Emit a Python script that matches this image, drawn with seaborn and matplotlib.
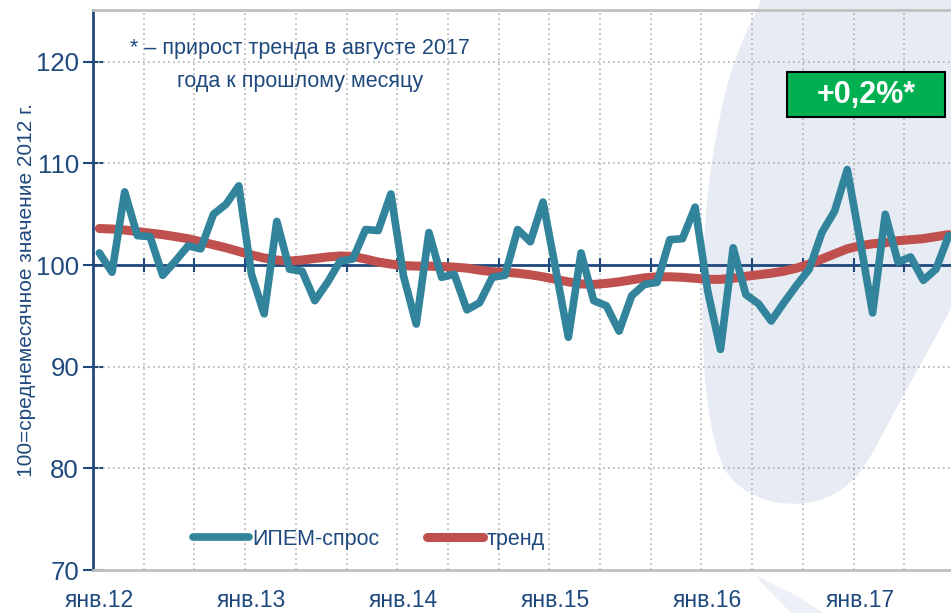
import numpy as np
import pandas as pd
import seaborn as sns
import matplotlib.pyplot as plt
from matplotlib.patches import Polygon, Rectangle

# ИПЕМ-спрос, январь 2012 - август 2017
demand = [101.2, 99.3, 107.2, 102.9, 102.8, 99.0, 100.4, 101.9, 101.6, 105.0, 106.0, 107.8,
          99.1, 95.2, 104.3, 99.6, 99.4, 96.5, 98.3, 100.4, 100.6, 103.5, 103.4, 107.0,
          98.9, 94.2, 103.2, 98.8, 99.1, 95.6, 96.3, 98.8, 99.0, 103.5, 102.3, 106.2,
          99.6, 92.9, 101.2, 96.5, 96.0, 93.5, 97.0, 98.1, 98.3, 102.5, 102.6, 105.7,
          97.4, 91.7, 101.7, 97.1, 96.2, 94.5, 96.3, 98.0, 99.6, 103.2, 105.3, 109.4,
          102.5, 95.3, 105.0, 100.3, 100.8, 98.5, 99.6, 102.9]
trend = [103.6, 103.55, 103.45, 103.3, 103.15, 103.0, 102.8, 102.6, 102.3, 102.0, 101.7, 101.35,
         101.0, 100.7, 100.5, 100.4, 100.5, 100.65, 100.8, 100.9, 100.85, 100.6, 100.3, 100.1,
         99.95, 99.9, 99.9, 99.85, 99.8, 99.7, 99.5, 99.35, 99.3, 99.2, 99.05, 98.85,
         98.6, 98.35, 98.15, 98.1, 98.2, 98.35, 98.55, 98.75, 98.85, 98.85, 98.8, 98.7,
         98.6, 98.6, 98.7, 98.9, 99.05, 99.2, 99.4, 99.7, 100.1, 100.6, 101.1, 101.6,
         101.9, 102.1, 102.2, 102.4, 102.5, 102.6, 102.8, 103.0]
year_labels = ["янв.12", "янв.13", "янв.14", "янв.15", "янв.16", "янв.17"]
y_ticks = [70, 80, 90, 100, 110, 120]

navy = "#1f497d"
teal = "#31849b"
red = "#c0504d"

sns.set_theme(style="white")
plt.rcParams['font.family'] = ['Liberation Sans', 'DejaVu Sans']

W, H = 951, 613


def smooth_closed(pts, n=20):
    # замкнутый сплайн Катмулла-Рома по опорным точкам
    p = np.array(pts, dtype=float)
    out = []
    k = len(p)
    for i in range(k):
        p0, p1, p2, p3 = p[i - 1], p[i], p[(i + 1) % k], p[(i + 2) % k]
        t = np.linspace(0, 1, n, endpoint=False)[:, None]
        out.append(0.5 * (2 * p1 + (-p0 + p2) * t + (2 * p0 - 5 * p1 + 4 * p2 - p3) * t ** 2
                          + (-p0 + 3 * p1 - 3 * p2 + p3) * t ** 3))
    out = np.vstack(out)
    out[:, 1] = H - out[:, 1]
    return out


fig = plt.figure(figsize=(W / 100, H / 100), dpi=100)
fig.patch.set_facecolor("white")

# декоративный фон справа (пиксели, отсчёт сверху)
blob_pts = [(790, -60), (762, 0), (736, 60), (720, 120), (708, 200), (703, 300), (708, 400),
            (725, 468), (758, 496), (797, 503), (832, 494), (862, 468), (900, 400),
            (951, 307), (990, 230), (1005, 60), (960, -60), (870, -90)]
fig.patches.append(Polygon(smooth_closed(blob_pts), closed=True, color="#e7ebf4",
                           zorder=-5, transform=None))
fig.patches.append(Polygon([(757, H - 577), (796, H - 596), (822, H - 613), (792, H - 613)],
                           closed=True, color="#edf0f7", zorder=-5, transform=None))

ax = fig.add_axes([93 / W, 43 / H, 862 / W, 560 / H])
ax.set_facecolor("none")

df = pd.DataFrame({"month": np.arange(len(demand)), "demand": demand, "trend": trend})
sns.lineplot(data=df, x="month", y="demand", color=teal, lw=5.5, ax=ax,
             label="ИПЕМ-спрос", zorder=4, solid_capstyle="round")
sns.lineplot(data=df, x="month", y="trend", color=red, lw=6.5, ax=ax,
             label="тренд", zorder=3, solid_capstyle="round")

ax.set_xlim(-0.5, len(demand) - 0.5)
ax.set_ylim(70, 125.1)

# сетка
for yv in y_ticks[1:]:
    ax.axhline(yv, color="#b0b0b0", lw=1.2, ls=(0, (1, 2)), zorder=1)
for xv in np.arange(3.5, len(demand), 4):
    ax.axvline(xv, color="#b0b0b0", lw=1.2, ls=(0, (1, 2)), zorder=1)

# ось X на уровне 100
ax.axhline(100, color=navy, lw=2, zorder=2)
ax.vlines(np.arange(3.5, len(demand), 4), 99.3, 100.7, color=navy, lw=1.5, zorder=2)

ax.set_yticks(y_ticks)
ax.set_yticklabels([str(v) for v in y_ticks], color=navy, fontsize=18.5)
ax.tick_params(axis="y", direction="inout", length=14, width=1.5, color=navy, left=True, pad=3)
ax.set_xticks(np.arange(0, len(demand), 12))
ax.set_xticklabels(year_labels, color=navy, fontsize=16.5)
ax.tick_params(axis="x", length=0, pad=14)
ax.set_xlabel("")
ax.set_ylabel("100=среднемесячное значение 2012 г.", color=navy, fontsize=15, labelpad=0)

for s in ["top", "bottom"]:
    ax.spines[s].set_color("#c0c0c0")
    ax.spines[s].set_linewidth(2)
ax.spines["right"].set_visible(False)
ax.spines["left"].set_color(navy)
ax.spines["left"].set_linewidth(2)

leg = ax.legend(loc="center", bbox_to_anchor=(369 / W, 1 - 539 / H), bbox_transform=fig.transFigure,
                ncol=2, frameon=False, fontsize=15.5, handlelength=2.6, columnspacing=2.2,
                handletextpad=0.15, labelcolor=navy)
for ln in leg.get_lines():
    ln.set_solid_capstyle("round")

fig.text(300 / W, 1 - 65 / H, "* – прирост тренда в августе 2017\nгода к прошлому месяцу",
         ha="center", va="center", color=navy, fontsize=15.5, linespacing=1.7)

fig.patches.append(Rectangle((787, H - 117), 158, 45, fc="#00b050", ec="black", lw=1.5,
                             transform=None, zorder=5))
fig.text(866 / W, 1 - 95 / H, "+0,2%*", ha="center", va="center", color="white",
         fontsize=22, fontweight="bold", zorder=6)

fig.savefig("out.png", dpi=100)
